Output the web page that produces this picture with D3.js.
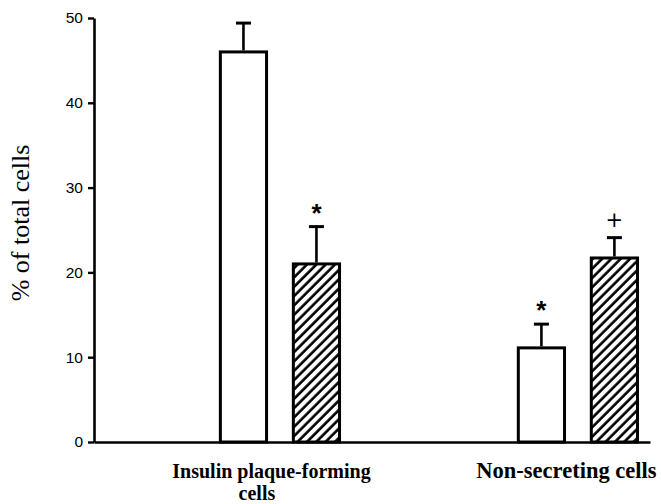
<!DOCTYPE html>
<html>
<head>
<meta charset="utf-8">
<script src="https://cdn.jsdelivr.net/npm/d3@7"></script>
<style>
  html, body { margin: 0; padding: 0; background: #fff; }
  svg { display: block; }
  .serif { font-family: "Liberation Serif", "Times New Roman", "DejaVu Serif", serif; }
  .sans { font-family: "Liberation Sans", Arial, Helvetica, sans-serif; }
</style>
</head>
<body>
<svg id="chart" width="661" height="504"></svg>
<script>
// ---- data ----
const categories = ["Insulin plaque-forming\ncells", "Non-secreting cells"];
const series = ["open", "hatched"];
const openValues = [46.0, 11.1];
const openErrors = [3.4, 2.8];
const openMarks = ["", "*"];
const hatchedValues = [21.0, 21.7];
const hatchedErrors = [4.4, 2.4];
const hatchedMarks = ["*", "+"];
const yTicks = [0, 10, 20, 30, 40, 50];
const yLabel = "% of total cells";

const rows = [];
categories.forEach((c, i) => {
  rows.push({cat: c, s: "open", v: openValues[i], e: openErrors[i], m: openMarks[i]});
  rows.push({cat: c, s: "hatched", v: hatchedValues[i], e: hatchedErrors[i], m: hatchedMarks[i]});
});

const svg = d3.select("#chart");

const defs = svg.append("defs");
const pat = defs.append("pattern")
  .attr("id", "hatch")
  .attr("patternUnits", "userSpaceOnUse")
  .attr("width", 6.6).attr("height", 10)
  .attr("patternTransform", "rotate(45)");
pat.append("rect").attr("width", 6.6).attr("height", 10).attr("fill", "#fff");
pat.append("line").attr("x1", 1.5).attr("y1", 0).attr("x2", 1.5).attr("y2", 10)
  .attr("stroke", "#000").attr("stroke-width", 2.6);

const x = d3.scaleBand().domain(categories).range([94, 650])
  .paddingInner(0.6).paddingOuter(0.233).align(0.91);
const xs = d3.scaleBand().domain(series).range([0, x.bandwidth()])
  .paddingInner(0.367).paddingOuter(0);
const y = d3.scaleLinear().domain([0, 50]).range([442, 18]);

// y axis
const yAxis = svg.append("g")
  .attr("transform", "translate(94,0)")
  .call(d3.axisLeft(y).tickValues(yTicks).tickSize(6).tickSizeOuter(0).tickPadding(5));
yAxis.attr("font-family", null).attr("font-size", null);
yAxis.select(".domain").attr("stroke-width", 2.6);
yAxis.selectAll(".tick line").attr("stroke-width", 2.4);
yAxis.selectAll(".tick text")
  .attr("class", "sans")
  .style("font-size", "15.5px").attr("fill", "#000");

// x axis
const xAxis = svg.append("g")
  .attr("transform", "translate(0,442)")
  .call(d3.axisBottom(x).tickSize(0).tickSizeOuter(0).tickFormat(""));
xAxis.attr("font-family", null).attr("font-size", null);
xAxis.select(".domain").attr("stroke-width", 2.6);
xAxis.selectAll(".tick text").remove();
xAxis.selectAll(".tick").each(function(d, k) {
  const lines = d.split("\n");
  const t = d3.select(this).append("text")
    .attr("class", "serif")
    .style("font-weight", "bold").style("font-size", k === 0 ? "20px" : "22.5px")
    .attr("fill", "#000").attr("text-anchor", "middle");
  lines.forEach((ln, i) => {
    t.append("tspan").attr("x", i === 0 ? (k === 0 ? -8.5 : -11.5) : -23).attr("y", i === 0 ? 36 : 58).text(ln);
  });
});

// bars
const g = svg.append("g");
const bx = d => x(d.cat) + xs(d.s);
g.selectAll("rect.bar").data(rows).join("rect")
  .attr("class", "bar")
  .attr("x", bx)
  .attr("y", d => y(d.v))
  .attr("width", xs.bandwidth())
  .attr("height", d => y(0) - y(d.v))
  .attr("fill", d => d.s === "open" ? "#fff" : "url(#hatch)")
  .attr("stroke", "#000").attr("stroke-width", 3);

// error bars (upper only)
const cx = d => bx(d) + xs.bandwidth() / 2;
g.selectAll("line.err").data(rows).join("line")
  .attr("class", "err")
  .attr("x1", cx).attr("x2", cx)
  .attr("y1", d => y(d.v) - 1.5).attr("y2", d => y(d.v + d.e))
  .attr("stroke", "#000").attr("stroke-width", 2.6);
g.selectAll("line.cap").data(rows).join("line")
  .attr("class", "cap")
  .attr("x1", d => cx(d) - 7.5).attr("x2", d => cx(d) + 7.5)
  .attr("y1", d => y(d.v + d.e)).attr("y2", d => y(d.v + d.e))
  .attr("stroke", "#000").attr("stroke-width", 3);

// significance marks
g.selectAll("text.mark").data(rows.filter(d => d.m)).join("text")
  .attr("class", d => d.m === "*" ? "mark sans" : "mark")
  .attr("x", cx)
  .attr("y", d => y(d.v + d.e) - (d.m === "*" ? 5 : 11))
  .attr("text-anchor", "middle")
  .style("font-family", d => d.m === "*" ? null : "'DejaVu Sans', sans-serif")
  .style("font-weight", d => d.m === "*" ? "bold" : "normal")
  .style("font-size", d => d.m === "*" ? "26px" : "21px")
  .attr("fill", "#000")
  .text(d => d.m);

// y label
svg.append("text")
  .attr("class", "serif")
  .attr("transform", "translate(29,223) rotate(-90)")
  .attr("text-anchor", "middle")
  .style("font-size", "26px").attr("fill", "#000")
  .text(yLabel);
</script>
</body>
</html>
